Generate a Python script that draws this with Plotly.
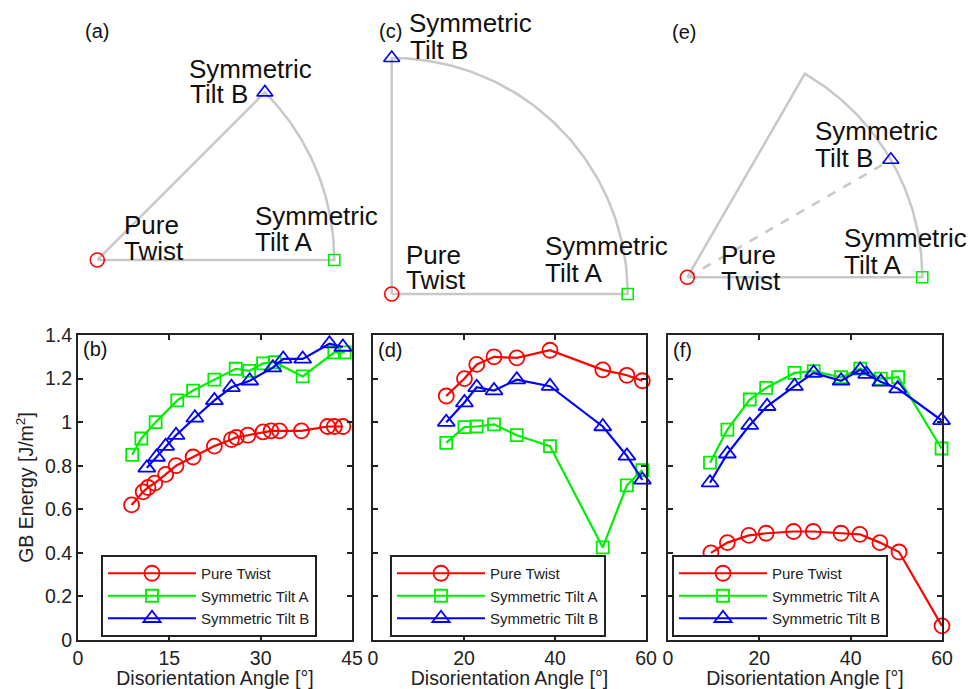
import numpy as np
import plotly.graph_objects as go

W, H = 970, 689
FONT = "Liberation Sans, Arial, Helvetica, sans-serif"

# ---------------- data ----------------
SERIES = ["Pure Twist", "Symmetric Tilt A", "Symmetric Tilt B"]

# panel (b)
PT_B_X = [8.8, 10.7, 11.5, 12.6, 14.4, 16.1, 18.9, 22.4, 25.2, 26.0, 27.9, 30.4, 31.7, 33.1, 36.7, 41.0, 42.1, 43.5]
PT_B_Y = [0.62, 0.68, 0.70, 0.72, 0.76, 0.80, 0.84, 0.89, 0.92, 0.93, 0.94, 0.955, 0.96, 0.96, 0.96, 0.98, 0.98, 0.98]
SA_B_X = [8.9, 10.4, 12.75, 16.3, 18.9, 22.4, 25.9, 28.1, 30.4, 32.3, 36.9, 42.1, 43.8]
SA_B_Y = [0.85, 0.925, 1.0, 1.10, 1.145, 1.195, 1.245, 1.235, 1.27, 1.275, 1.21, 1.32, 1.32]
SB_B_X = [11.3, 12.9, 14.4, 16.1, 19.2, 22.4, 25.2, 28.2, 32.0, 33.7, 36.9, 41.3, 43.5]
SB_B_Y = [0.79, 0.84, 0.89, 0.94, 1.02, 1.10, 1.16, 1.19, 1.25, 1.29, 1.29, 1.36, 1.345]

# panel (d)
D_X = [16.1, 20.1, 22.8, 26.6, 31.6, 38.9, 50.5, 55.8, 59.2]
PT_D_Y = [1.12, 1.20, 1.265, 1.30, 1.295, 1.33, 1.24, 1.215, 1.19]
SA_D_Y = [0.905, 0.977, 0.98, 0.99, 0.94, 0.89, 0.425, 0.71, 0.78]
SB_D_Y = [1.0, 1.09, 1.16, 1.145, 1.195, 1.165, 0.98, 0.845, 0.735]

# panel (f)
PT_F_X = [9.4, 13.0, 17.7, 21.5, 27.5, 31.8, 37.9, 42.0, 46.4, 50.6, 60.0]
PT_F_Y = [0.40, 0.447, 0.48, 0.49, 0.498, 0.498, 0.49, 0.485, 0.447, 0.404, 0.065]
SA_F_X = [9.2, 13.0, 17.9, 21.5, 27.7, 31.9, 37.9, 42.1, 46.6, 50.4, 59.9]
SA_F_Y = [0.814, 0.966, 1.104, 1.157, 1.226, 1.234, 1.206, 1.246, 1.20, 1.206, 0.879]
SB_F_X = [9.2, 13.0, 17.9, 21.7, 27.7, 31.9, 37.9, 42.1, 43.5, 46.6, 50.3, 59.9]
SB_F_Y = [0.722, 0.855, 0.986, 1.073, 1.165, 1.226, 1.19, 1.24, 1.22, 1.185, 1.154, 1.008]

Y_TICKS = [0, 0.2, 0.4, 0.6, 0.8, 1.0, 1.2, 1.4]
Y_TICK_TEXT = ["0", "0.2", "0.4", "0.6", "0.8", "1", "1.2", "1.4"]
X_TICKS_B = [0, 15, 30, 45]
X_TICKS_DF = [0, 20, 40, 60]

# schematic geometry: sector opening angle and direction of Tilt B (degrees)
SECTOR_DEG = [45, 90, 60]
TILT_B_DEG = [45, 90, 30]

# ---------------- styles ----------------
COLORS = ["#ff0000", "#00ee00", "#0000ff"]
SYMBOLS = ["circle-open", "square-open", "triangle-up-open"]
MSIZES = [15, 12, 15]
GRAY = "#c8c8c8"
FRAME = "#222222"


def pxx(x):
    return x / W


def pxy(y):
    return 1 - y / H


fig = go.Figure()

panels = [
    dict(data=[(PT_B_X, PT_B_Y), (SA_B_X, SA_B_Y), (SB_B_X, SB_B_Y)], xa="x", ya="y",
         legend="legend", xdom=(78, 352), xrange=[0, 45], xticks=X_TICKS_B, leg=(101, 637)),
    dict(data=[(D_X, PT_D_Y), (D_X, SA_D_Y), (D_X, SB_D_Y)], xa="x2", ya="y2",
         legend="legend2", xdom=(373, 646), xrange=[0, 60], xticks=X_TICKS_DF, leg=(390, 637)),
    dict(data=[(PT_F_X, PT_F_Y), (SA_F_X, SA_F_Y), (SB_F_X, SB_F_Y)], xa="x3", ya="y3",
         legend="legend3", xdom=(668, 942), xrange=[0, 60], xticks=X_TICKS_DF, leg=(672, 637)),
]
Y_DOM = (335, 640)

for p in panels:
    for k, (xs, ys) in enumerate(p["data"]):
        fig.add_trace(go.Scatter(
            x=xs, y=ys, name=SERIES[k], mode="lines+markers",
            xaxis=p["xa"], yaxis=p["ya"], legend=p["legend"], cliponaxis=False,
            line=dict(color=COLORS[k], width=2.2),
            marker=dict(symbol=SYMBOLS[k], size=MSIZES[k], color=COLORS[k],
                        line=dict(color=COLORS[k], width=1.8)),
        ))

layout = dict(
    width=W, height=H, margin=dict(l=0, r=0, t=0, b=0, autoexpand=False),
    paper_bgcolor="white", plot_bgcolor="white",
    font=dict(family=FONT, size=18, color="#222"),
    showlegend=True,
)

axis_common = dict(showline=True, linecolor=FRAME, linewidth=2, mirror="ticks",
                   ticks="inside", ticklen=5, tickwidth=1.5, tickcolor=FRAME,
                   showgrid=False, zeroline=False, fixedrange=True, automargin=False,
                   tickfont=dict(size=19.5, color="#222", family=FONT))

for i, p in enumerate(panels):
    sfx = "" if i == 0 else str(i + 1)
    layout["xaxis" + sfx] = dict(
        axis_common, domain=[pxx(p["xdom"][0]), pxx(p["xdom"][1])], range=p["xrange"],
        tickvals=p["xticks"], anchor="y" + sfx, ticklabelstandoff=0,
        title=dict(text="Disorientation Angle [°]", font=dict(size=19.5, family=FONT, color="#222"), standoff=8),
    )
    ycfg = dict(axis_common, domain=[pxy(Y_DOM[1]), pxy(Y_DOM[0])], range=[0, 1.4],
                tickvals=Y_TICKS, ticktext=Y_TICK_TEXT, anchor="x" + sfx,
                showticklabels=(i == 0))
    if i == 0:
        ycfg["title"] = dict(text="GB Energy [J/m<sup>2</sup>]", font=dict(size=19.5, family=FONT, color="#222"), standoff=6)
    layout["yaxis" + sfx] = ycfg
    layout[p["legend"]] = dict(
        x=pxx(p["leg"][0]), y=pxy(p["leg"][1]), xanchor="left", yanchor="bottom",
        bgcolor="white", bordercolor=FRAME, borderwidth=2,
        font=dict(size=15, family=FONT, color="#222"), itemwidth=88, tracegroupgap=0,
    )

# ---------------- schematics (a), (c), (e) ----------------
SCHEM = [
    dict(origin=(97.3, 260), R=237, box=(40, 0, 365, 330)),
    dict(origin=(391.7, 294), R=236, box=(365, 0, 662, 330)),
    dict(origin=(687.3, 277.3), R=235, box=(662, 0, 970, 330)),
]

for j, s in enumerate(SCHEM):
    n = 4 + j
    ox, oy = s["origin"]
    R = s["R"]
    x0, y0, x1, y1 = s["box"]
    layout["xaxis%d" % n] = dict(domain=[pxx(x0), pxx(x1)], range=[(x0 - ox) / R, (x1 - ox) / R],
                                 visible=False, anchor="y%d" % n, fixedrange=True)
    layout["yaxis%d" % n] = dict(domain=[pxy(y1), pxy(y0)], range=[(oy - y1) / R, (oy - y0) / R],
                                 visible=False, anchor="x%d" % n, fixedrange=True)
    th = np.radians(np.linspace(0, SECTOR_DEG[j], 90))
    ox_l = [0.0] + list(np.cos(th)) + [0.0]
    oy_l = [0.0] + list(np.sin(th)) + [0.0]
    fig.add_trace(go.Scatter(x=ox_l, y=oy_l, mode="lines", xaxis="x%d" % n, yaxis="y%d" % n,
                             line=dict(color=GRAY, width=2.5), showlegend=False, hoverinfo="skip"))
    bt = np.radians(TILT_B_DEG[j])
    if TILT_B_DEG[j] != SECTOR_DEG[j]:
        fig.add_trace(go.Scatter(x=[0, np.cos(bt)], y=[0, np.sin(bt)], mode="lines",
                                 xaxis="x%d" % n, yaxis="y%d" % n,
                                 line=dict(color=GRAY, width=2.5, dash="dash"),
                                 showlegend=False, hoverinfo="skip"))
    pts = [(0.0, 0.0), (1.0, 0.0), (float(np.cos(bt)), float(np.sin(bt)))]
    for k, (px_, py_) in enumerate(pts):
        fig.add_trace(go.Scatter(x=[px_], y=[py_], mode="markers", xaxis="x%d" % n, yaxis="y%d" % n,
                                 cliponaxis=False, showlegend=False, hoverinfo="skip",
                                 marker=dict(symbol=SYMBOLS[k], size=MSIZES[k] - 1, color=COLORS[k],
                                             line=dict(color=COLORS[k], width=1.6))))

# ---------------- text labels ----------------
LABEL_FS = 26
labels = [
    # (text, left px, center y px, size)
    ("(a)", 83, 31, 20), ("(c)", 377, 31, 20), ("(e)", 670, 32, 20),
    ("(b)", 81, 349, 20), ("(d)", 376, 350, 20), ("(f)", 671, 350, 20),
    # (a)
    ("Symmetric", 187, 69, LABEL_FS), ("Tilt B", 188, 94, LABEL_FS),
    ("Pure", 122, 225, LABEL_FS), ("Twist", 122, 251, LABEL_FS),
    ("Symmetric", 253, 216, LABEL_FS), ("Tilt A", 253, 242, LABEL_FS),
    # (c)
    ("Symmetric", 407, 23, LABEL_FS), ("Tilt B", 408, 50, LABEL_FS),
    ("Pure", 404, 255, LABEL_FS), ("Twist", 404, 280, LABEL_FS),
    ("Symmetric", 543, 246, LABEL_FS), ("Tilt A", 543, 273, LABEL_FS),
    # (e)
    ("Symmetric", 813, 131, LABEL_FS), ("Tilt B", 813, 158, LABEL_FS),
    ("Pure", 719, 255, LABEL_FS), ("Twist", 719, 281, LABEL_FS),
    ("Symmetric", 842, 238, LABEL_FS), ("Tilt A", 842, 265, LABEL_FS),
]
annotations = []
for text, lx, cy, fs in labels:
    annotations.append(dict(text=text, x=pxx(lx), y=pxy(cy), xref="paper", yref="paper",
                            xanchor="left", yanchor="middle", showarrow=False,
                            font=dict(size=fs, family=FONT, color="#111")))
layout["annotations"] = annotations

fig.update_layout(**layout)
fig.write_html("out.html")
